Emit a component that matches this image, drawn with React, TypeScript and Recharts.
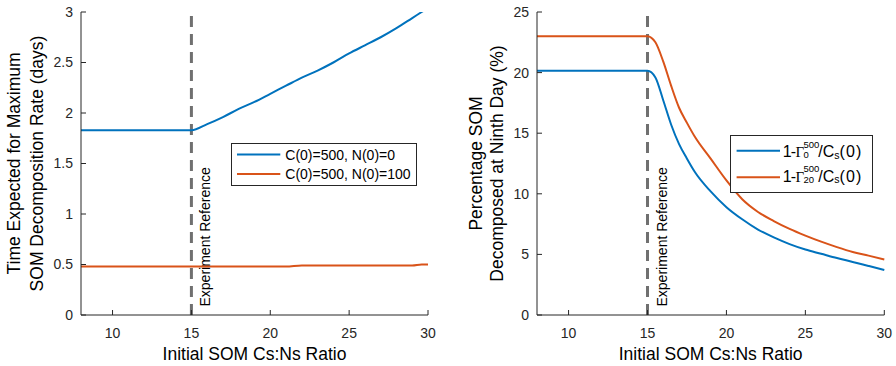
import { LineChart, Line, XAxis, YAxis, ReferenceLine, Legend } from 'recharts';

// left panel: time to max decomposition rate vs initial Cs:Ns
const ratioTime = [8, 15, 16, 17, 18, 19, 20, 21, 22, 23, 24, 25, 26, 27, 28, 29, 29.6, 30];
const timeNoN = [1.83, 1.83, 1.89, 1.96, 2.04, 2.11, 2.19, 2.27, 2.35, 2.42, 2.5, 2.59, 2.67, 2.75, 2.84, 2.94, 3.0, 3.04];
const timeWithN = [0.48, 0.48, 0.48, 0.48, 0.48, 0.48, 0.48, 0.48, 0.49, 0.49, 0.49, 0.49, 0.49, 0.49, 0.49, 0.49, 0.5, 0.5];

// right panel: percent SOM decomposed at day nine
const ratioPct = [8, 15, 15.5, 16, 16.5, 17, 17.5, 18, 19, 20, 21, 22, 23, 24, 25, 26, 27, 28, 29, 30];
const pctGamma0 = [20.15, 20.15, 19.6, 17.7, 15.7, 14.1, 12.9, 11.8, 10.2, 8.9, 7.9, 7.05, 6.4, 5.85, 5.4, 5.05, 4.7, 4.38, 4.05, 3.72];
const pctGamma20 = [23.0, 23.0, 22.5, 20.9, 18.9, 17.1, 15.85, 14.7, 12.9, 11.1, 9.55, 8.5, 7.75, 7.1, 6.55, 6.05, 5.6, 5.2, 4.9, 4.58];

const xTicks = [10, 15, 20, 25, 30];
const timeTicks = [0, 0.5, 1, 1.5, 2, 2.5, 3];
const pctTicks = [0, 5, 10, 15, 20, 25];
const experimentRatio = 15;

const BLUE = '#0072BD';
const ORANGE = '#D95319';
const AXIS = '#262626';
const FONT = '"Liberation Sans", Arial, sans-serif';

const timeData = ratioTime.map((x, i) => ({ x, a: timeNoN[i], b: timeWithN[i] }));
const pctData = ratioPct.map((x, i) => ({ x, a: pctGamma0[i], b: pctGamma20[i] }));

const tickStyle = { fontSize: 14, fill: AXIS, fontFamily: FONT };
const noLabel = () => <g />;

const ExpLabel = ({ viewBox }: any) => {
  const x = viewBox.x + 19;
  const y = viewBox.y + viewBox.height - 8.5;
  return (
    <text x={x} y={y} transform={`rotate(-90 ${x} ${y})`} fontSize={14} fill="#000" fontFamily={FONT}>
      Experiment Reference
    </text>
  );
};

const yTitle = (lines: string[], xs: number[]) => ({ viewBox }: any) => {
  const cy = viewBox.y + viewBox.height / 2;
  return (
    <g>
      {lines.map((t, i) => (
        <text key={i} x={xs[i]} y={cy} transform={`rotate(-90 ${xs[i]} ${cy})`} textAnchor="middle"
          fontSize={17.5} fill="#000" fontFamily={FONT}>{t}</text>
      ))}
    </g>
  );
};

const xTitle = ({ viewBox }: any) => (
  <text x={viewBox.x + viewBox.width / 2} y={359.5} textAnchor="middle" fontSize={17.5} fill="#000" fontFamily={FONT}>
    Initial SOM Cs:Ns Ratio
  </text>
);

const TimeLegend = () => (
  <svg width={186} height={43} style={{ display: 'block' }}>
    <rect x={0.5} y={0.5} width={185} height={42} fill="#fff" stroke={AXIS} strokeWidth={1} />
    <line x1={6} x2={49.3} y1={11.6} y2={11.6} stroke={BLUE} strokeWidth={2} />
    <line x1={6} x2={49.3} y1={31} y2={31} stroke={ORANGE} strokeWidth={2} />
    <text x={54.3} y={16.6} fontSize={14} fontFamily={FONT} fill="#000">C(0)=500, N(0)=0</text>
    <text x={54.3} y={36} fontSize={14} fontFamily={FONT} fill="#000">C(0)=500, N(0)=100</text>
  </svg>
);

const GammaText = ({ y, sub }: { y: number; sub: string }) => (
  <text fontSize={16} fontFamily={FONT} fill="#000">
    <tspan x={52.8} y={y} letterSpacing={-1}>1-</tspan>
    <tspan x={65.6} y={y} fontFamily='"Liberation Serif", serif' fontSize={15}>Γ</tspan>
    <tspan x={73.4} y={y - 9.8} fontSize={9.5}>500</tspan>
    <tspan x={73.4} y={y + 1} fontSize={9.5}>{sub}</tspan>
    <tspan x={88.3} y={y}>/C</tspan>
    <tspan x={104.3} y={y + 1.4} fontSize={10.5}>s</tspan>
    <tspan x={109.4} y={y} letterSpacing={1.2}>(0)</tspan>
  </text>
);

const PctLegend = () => (
  <svg width={143} height={58} style={{ display: 'block' }}>
    <rect x={0.5} y={0.5} width={142} height={57} fill="#fff" stroke={AXIS} strokeWidth={1} />
    <line x1={6.6} x2={50} y1={15.7} y2={15.7} stroke={BLUE} strokeWidth={2} />
    <line x1={6.6} x2={50} y1={42.3} y2={42.3} stroke={ORANGE} strokeWidth={2} />
    <GammaText y={22.3} sub="0" />
    <GammaText y={46.5} sub="20" />
  </svg>
);

const Panel = ({ data, yDomain, yTicks, yWidth, right, titleLines, titleXs, legend, legendPos }: any) => (
  <LineChart width={448} height={366} data={data} margin={{ top: 12, right, bottom: 0, left: 0 }}
    style={{ fontFamily: FONT }}>
    <XAxis dataKey="x" type="number" domain={[8, 30]} ticks={xTicks} height={51}
      tick={tickStyle} tickSize={-5} tickMargin={18} axisLine={{ stroke: AXIS }} tickLine={{ stroke: AXIS }}
      label={{ content: xTitle }} />
    <XAxis xAxisId="top" orientation="top" dataKey="x" type="number" domain={[8, 30]} ticks={xTicks} height={0}
      tick={noLabel} tickSize={-5} axisLine={{ stroke: AXIS }} tickLine={{ stroke: AXIS }} />
    <YAxis type="number" domain={yDomain} ticks={yTicks} width={yWidth} allowDataOverflow
      tick={tickStyle} tickSize={-5} tickMargin={13} axisLine={{ stroke: AXIS }} tickLine={{ stroke: AXIS }}
      label={{ content: yTitle(titleLines, titleXs) }} />
    <YAxis yAxisId="right" orientation="right" type="number" domain={yDomain} ticks={yTicks} width={0}
      tick={noLabel} tickSize={-5} axisLine={{ stroke: AXIS }} tickLine={{ stroke: AXIS }} />
    <ReferenceLine x={experimentRatio} stroke="#707070" strokeWidth={3} strokeDasharray="11 7"
      label={{ content: ExpLabel }} />
    <Line dataKey="a" type="monotone" stroke={BLUE} strokeWidth={2} dot={false} isAnimationActive={false} />
    <Line dataKey="b" type="monotone" stroke={ORANGE} strokeWidth={2} dot={false} isAnimationActive={false} />
    <Legend layout="horizontal" verticalAlign="middle" content={legend}
      wrapperStyle={{ left: legendPos[0], top: legendPos[1], width: 'auto', height: 'auto' }} />
  </LineChart>
);

export default function App() {
  return (
    <div style={{ position: 'absolute', left: 0, top: 0, width: 896, height: 366, background: '#fff' }}>
      <div style={{ position: 'absolute', left: 0, top: 0 }}>
        <Panel data={timeData} yDomain={[0, 3]} yTicks={timeTicks} yWidth={81} right={20}
          titleLines={['Time Expected for Maximum', 'SOM Decomposition Rate (days)']} titleXs={[19.5, 42.5]}
          legend={TimeLegend} legendPos={[230.7, 142.7]} />
      </div>
      <div style={{ position: 'absolute', left: 448, top: 0 }}>
        <Panel data={pctData} yDomain={[0, 25]} yTicks={pctTicks} yWidth={89} right={11.7}
          titleLines={['Percentage SOM', 'Decomposed at Ninth Day (%)']} titleXs={[33.7, 55]}
          legend={PctLegend} legendPos={[281.7, 135]} />
      </div>
    </div>
  );
}
